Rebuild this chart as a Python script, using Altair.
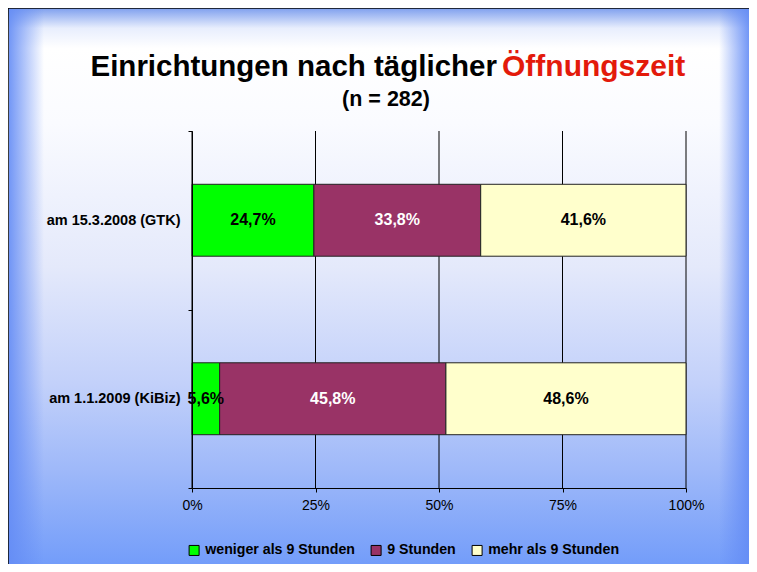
import altair as alt
import pandas as pd

periods = ["am 15.3.2008 (GTK)", "am 1.1.2009 (KiBiz)"]
categories = ["weniger als 9 Stunden", "9 Stunden", "mehr als 9 Stunden"]
colors = ["#00FF00", "#993366", "#FFFFCC"]
gtk_values = [24.7, 33.8, 41.6]
kibiz_values = [5.6, 45.8, 48.6]
x_ticks = [0, 0.25, 0.5, 0.75, 1.0]

rows = []
for p, vals in zip(periods, [gtk_values, kibiz_values]):
    for i, (c, v) in enumerate(zip(categories, vals)):
        rows.append({"period": p, "category": c, "value": v, "order": i})
df = pd.DataFrame(rows)
grid_df = pd.DataFrame({"t": x_ticks})

FONT = "Liberation Sans"
W, H = 741, 556
PL, PT, PW, PH = 184, 123, 494, 357
PR = W - PL - PW
PB = H - PT - PH

one = pd.DataFrame({"a": [0]})

bg = alt.Chart(one).mark_rect(
    fill=alt.Gradient(
        gradient="linear",
        x1=0, y1=0, x2=0, y2=1,
        stops=[
            alt.GradientStop(offset=0, color="#7E9FEE"),
            alt.GradientStop(offset=0.035, color="#E8EEFD"),
            alt.GradientStop(offset=0.07, color="#FFFFFF"),
            alt.GradientStop(offset=0.2, color="#FAFBFF"),
            alt.GradientStop(offset=0.45, color="#E4E9FB"),
            alt.GradientStop(offset=0.65, color="#C3D1FA"),
            alt.GradientStop(offset=0.8, color="#9FB9F9"),
            alt.GradientStop(offset=1, color="#6A97FA"),
        ],
    ),
    stroke="black",
    strokeWidth=1.5,
).encode(
    x=alt.value(-PL), x2=alt.value(W - PL + 20), y=alt.value(-PT), y2=alt.value(H - PT + 20)
)

left_edge = alt.Chart(one).mark_rect(
    fill=alt.Gradient(
        gradient="linear", x1=0, y1=0, x2=1, y2=0,
        stops=[
            alt.GradientStop(offset=0, color="rgba(100,140,245,0.9)"),
            alt.GradientStop(offset=1, color="rgba(100,140,245,0)"),
        ],
    ),
).encode(x=alt.value(-PL + 1), x2=alt.value(-PL + 36), y=alt.value(-PT + 1), y2=alt.value(H - PT))

right_edge = alt.Chart(one).mark_rect(
    fill=alt.Gradient(
        gradient="linear", x1=0, y1=0, x2=1, y2=0,
        stops=[
            alt.GradientStop(offset=0, color="rgba(100,140,245,0)"),
            alt.GradientStop(offset=1, color="rgba(100,140,245,0.9)"),
        ],
    ),
).encode(x=alt.value(W - PL - 30), x2=alt.value(W - PL), y=alt.value(-PT + 1), y2=alt.value(H - PT))

title_black = alt.Chart(one).mark_text(
    font=FONT, fontSize=29.5, fontWeight="bold", color="black", align="right", baseline="alphabetic"
).encode(x=alt.value(305), y=alt.value(-55), text=alt.value("Einrichtungen nach täglicher"))

title_red = alt.Chart(one).mark_text(
    font=FONT, fontSize=30, fontWeight="bold", color="#E31A0B", align="left", baseline="alphabetic"
).encode(x=alt.value(310), y=alt.value(-55), text=alt.value("Öffnungszeit"))

subtitle = alt.Chart(one).mark_text(
    font=FONT, fontSize=21.5, fontWeight="bold", color="black", align="center", baseline="alphabetic"
).encode(x=alt.value(194), y=alt.value(-25), text=alt.value("(n = 282)"))

gridlines = alt.Chart(grid_df).mark_rule(color="black", strokeWidth=1).encode(
    x=alt.X("t:Q"), y=alt.value(0), y2=alt.value(PH)
)

base = alt.Chart(df).transform_stack(
    stack="value",
    groupby=["period"],
    as_=["x0", "x1"],
    sort=[alt.SortField("order", order="ascending")],
    offset="normalize",
).transform_calculate(
    mid="(datum.x0 + datum.x1) / 2",
    label="replace(format(datum.value, '.1f'), '.', ',') + '%'",
)

yenc = alt.Y(
    "period:N",
    sort=periods,
    scale=alt.Scale(domain=periods, paddingInner=0, paddingOuter=0),
    axis=alt.Axis(
        title=None,
        domainColor="black",
        tickColor="black",
        tickSize=4,
        tickBand="extent",
        labelFont=FONT,
        labelFontSize=14.5,
        labelFontWeight="bold",
        labelColor="black",
        labelPadding=8,
        grid=False,
        zindex=1,
    ),
)

bars = base.mark_bar(
    stroke="#222222", strokeWidth=1, height=alt.RelativeBandSize(band=0.403)
).encode(
    x=alt.X(
        "x0:Q",
        scale=alt.Scale(domain=[0, 1], nice=False),
        axis=alt.Axis(
            title=None,
            values=x_ticks,
            format="%",
            grid=False,
            domainColor="black",
            tickColor="black",
            tickSize=4,
            labelFont=FONT,
            labelFontSize=14,
            labelColor="black",
            labelPadding=6,
            labelFlush=False,
            zindex=1,
        ),
    ),
    x2="x1:Q",
    y=yenc,
    color=alt.Color(
        "category:N",
        scale=alt.Scale(domain=categories, range=colors),
        sort=categories,
        legend=alt.Legend(
            title=None,
            orient="none",
            direction="horizontal",
            legendX=-5,
            legendY=412,
            symbolType="square",
            symbolSize=100,
            symbolStrokeColor="black",
            symbolStrokeWidth=1,
            symbolOpacity=1,
            labelFont=FONT,
            labelFontSize=14.2,
            labelFontWeight="bold",
            labelColor="black",
            labelOffset=4,
            columnPadding=14,
            labelLimit=300,
        ),
    ),
)

labels = base.mark_text(font=FONT, fontSize=16, fontWeight="bold").encode(
    x=alt.X("mid:Q"),
    y=alt.Y("period:N", sort=periods),
    text="label:N",
    color=alt.condition(alt.datum.category == "9 Stunden", alt.value("white"), alt.value("black")),
)

chart = alt.layer(
    bg, left_edge, right_edge, title_black, title_red, subtitle, gridlines, bars, labels
).properties(
    width=PW,
    height=PH,
    autosize=alt.AutoSizeParams(type="none"),
    padding={"left": PL, "top": PT, "right": PR, "bottom": PB},
).configure_view(stroke=None).configure(background="transparent")

chart.save("out.html", embed_options={"renderer": "svg", "actions": False})
